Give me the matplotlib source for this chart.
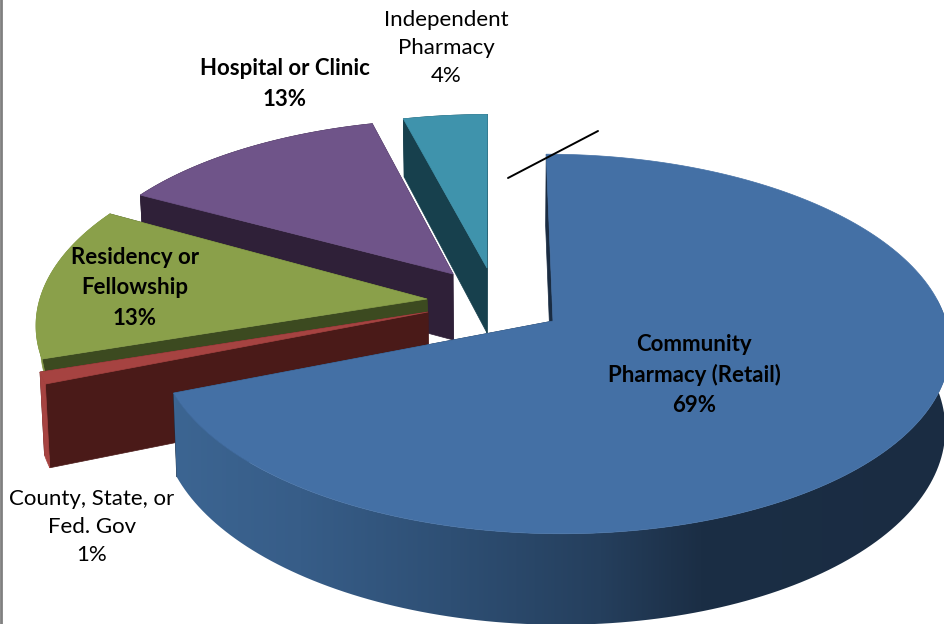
import numpy as np
import matplotlib
matplotlib.use('Agg')
import matplotlib.pyplot as plt
from matplotlib.patches import Polygon
from matplotlib.colors import to_rgb

categories = ['Community\nPharmacy (Retail)', 'County, State, or\nFed. Gov', 'Residency or\nFellowship',
              'Hospital or Clinic', 'Independent\nPharmacy']
values = [69, 1, 13, 13, 4]

# look of each slice
tops = ['#4470a5', '#a64341', '#8aa04a', '#6f5489', '#3f93ac']
sides = ['#1a2c42', '#4a1a18', '#3c4a20', '#2f2038', '#17404d']
rims = [None, '#a64341', '#7f9443', '#2f2038', '#17404d']
apex_x = [553, 428, 427, 453, 487]
apex_y = [321, 312, 299, 274, 268]
scale_x = [1.0, 0.993, 0.985, 0.967, 0.96]
scale_y = [1.0, 1.0, 1.0, 0.927, 0.92]
depth = [80, 80, 21, 66, 65]

# label centre, bold or not
label_x = [694, 92, 135, 285, 446]
label_y = [375, 527, 288, 84, 48]
label_bold = [True, False, True, True, False]

R = 393
B = 187
K = 0.121
VX = 490
BOTTOM = 0.99
RIM_STOPS_X = [175, 300, 450, 600, 700, 944]
RIM_STOPS = ['#3c6592', '#375d88', '#2e4f74', '#253f5d', '#1b2e45', '#1a2c42']

fig = plt.figure(figsize=(9.44, 6.24), dpi=100)
ax = fig.add_axes([0, 0, 1, 1])

order = [0]


def next_z():
    order[0] += 1
    return order[0]


def project(i, deg):
    t = np.radians(deg)
    v = np.cos(t)
    den = 1 + K * v
    x = VX + (apex_x[i] - VX + R * scale_x[i] * np.sin(t)) / den
    y = apex_y[i] - B * scale_y[i] * v / den
    return x, y, den


def gradient_rim(pts):
    cols = np.array([to_rgb(c) for c in RIM_STOPS])
    xs = np.arange(150, 960)
    img = np.stack([np.interp(xs, RIM_STOPS_X, cols[:, k]) for k in range(3)], axis=1)[np.newaxis, :, :]
    im = ax.imshow(img, extent=[150, 960, 640, 300], aspect='auto', zorder=next_z())
    im.set_clip_path(Polygon(pts, transform=ax.transData))


def draw_slice(i, a0, a1):
    angles = np.linspace(a0, a1, 200)
    x, y, den = project(i, angles)
    ax0, ay0 = apex_x[i], apex_y[i]
    # bottom face, a bit narrower and deeper towards the viewer
    bx = VX + (x - VX) * BOTTOM
    by = y + depth[i] / den
    dx0 = VX + (ax0 - VX) * BOTTOM
    dy0 = ay0 + depth[i]

    # flat cut faces
    for j in [0, -1]:
        ax.add_patch(Polygon([(ax0, ay0), (x[j], y[j]), (bx[j], by[j]), (dx0, dy0)],
                             fc=sides[i], ec=sides[i], lw=0.5, zorder=next_z()))
    # outer rim
    rim = np.column_stack([np.r_[x, bx[::-1]], np.r_[y, by[::-1]]])
    if rims[i]:
        ax.add_patch(Polygon(rim, fc=rims[i], ec=rims[i], lw=0.5, zorder=next_z()))
    else:
        gradient_rim(rim)
    ax.add_patch(Polygon(np.column_stack([np.r_[ax0, x], np.r_[ay0, y]]),
                         fc=tops[i], ec=tops[i], lw=0.5, zorder=next_z()))


edges = np.r_[0, np.cumsum(values)] / sum(values) * 360

# far slices first, the big one sits in front
for i in [4, 3, 2, 1, 0]:
    draw_slice(i, edges[i], edges[i + 1])

ax.set_xlim(0, 944)
ax.set_ylim(624, 0)
ax.axis('off')

ax.plot([508, 598], [178, 131], color='black', lw=1.4, solid_capstyle='round', zorder=next_z())
ax.plot([1, 1], [0, 624], color='#808080', lw=2, zorder=next_z())

for i, name in enumerate(categories):
    ax.text(label_x[i], label_y[i], f'{name}\n{values[i]}%', ha='center', va='center', multialignment='center',
            family='Lato', fontsize=16, fontweight='bold' if label_bold[i] else 'normal',
            color='black', linespacing=1.53, zorder=next_z())

fig.savefig('out.png', dpi=100)
